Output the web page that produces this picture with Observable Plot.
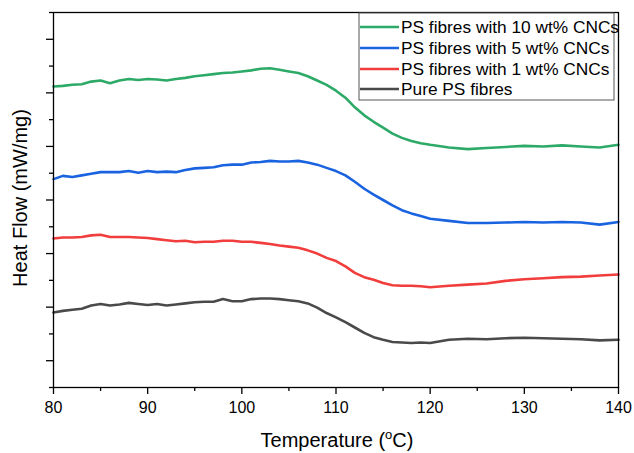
<!DOCTYPE html>
<html><head><meta charset="utf-8">
<script src="https://cdn.jsdelivr.net/npm/d3@7"></script>
<script src="https://cdn.jsdelivr.net/npm/@observablehq/plot@0.6"></script>
<style>body{margin:0;background:#fff;}</style>
</head><body><div id="chart"></div>
<script>
// Temperature (°C)
const temps = [80,81,82,83,84,85,86,87,88,89,90,91,92,93,94,95,96,97,98,99,100,101,102,103,104,105,106,107,108,109,110,111,112,113,114,115,116,117,118,119,120,122,124,126,128,130,132,134,136,138,140];
// Heat flow (arbitrary offset units)
const cnc10 = [5.12,5.13,5.15,5.16,5.21,5.23,5.18,5.23,5.26,5.24,5.26,5.25,5.23,5.26,5.28,5.31,5.33,5.35,5.37,5.38,5.40,5.42,5.45,5.46,5.43,5.40,5.37,5.31,5.23,5.15,5.04,4.91,4.73,4.58,4.46,4.35,4.24,4.16,4.10,4.06,4.03,3.98,3.95,3.97,3.99,4.01,4.00,4.02,4.00,3.98,4.03];
const cnc5 = [3.39,3.45,3.43,3.46,3.49,3.52,3.52,3.52,3.54,3.51,3.54,3.52,3.53,3.52,3.56,3.59,3.60,3.61,3.65,3.66,3.66,3.70,3.71,3.73,3.72,3.72,3.73,3.70,3.66,3.60,3.54,3.46,3.34,3.21,3.10,3.00,2.90,2.81,2.75,2.70,2.65,2.61,2.57,2.57,2.58,2.59,2.58,2.59,2.58,2.54,2.59];
const cnc1 = [2.28,2.30,2.30,2.31,2.34,2.35,2.31,2.31,2.31,2.30,2.29,2.27,2.25,2.23,2.24,2.21,2.22,2.22,2.24,2.24,2.22,2.22,2.20,2.18,2.15,2.13,2.11,2.06,2.00,1.92,1.86,1.76,1.64,1.56,1.51,1.45,1.41,1.40,1.40,1.39,1.37,1.40,1.42,1.44,1.49,1.52,1.54,1.56,1.57,1.59,1.61];
const pure = [0.90,0.93,0.95,0.97,1.03,1.06,1.03,1.05,1.08,1.06,1.04,1.06,1.03,1.05,1.07,1.09,1.10,1.10,1.15,1.11,1.11,1.15,1.16,1.16,1.15,1.13,1.11,1.07,0.99,0.89,0.81,0.72,0.62,0.52,0.44,0.39,0.35,0.34,0.33,0.34,0.33,0.39,0.41,0.40,0.42,0.43,0.42,0.41,0.40,0.38,0.39];

const seriesNames = ["PS fibres with 10 wt% CNCs","PS fibres with 5 wt% CNCs","PS fibres with 1 wt% CNCs","Pure PS fibres"];
const seriesColors = ["#2daa67","#1a63e0","#f23d3d","#4a4a4a"];
const xMajor = [80,90,100,110,120,130,140];
const xMinor = [85,95,105,115,125,135];
const yMajor = [0,1,2,3,4,5,6];
const yMinor = [-0.5,0.5,1.5,2.5,3.5,4.5,5.5,6.5];

const seriesValues = [cnc10, cnc5, cnc1, pure];
const rows = [];
seriesValues.forEach((vals, i) => vals.forEach((v, j) => rows.push({T: temps[j], v, series: seriesNames[i]})));

const font = "'Liberation Sans', Arial, sans-serif";
const chart = Plot.plot({
  width: 634, height: 453,
  marginLeft: 53, marginRight: 16, marginTop: 12, marginBottom: 66,
  style: {fontFamily: font, fontSize: "16px", color: "#000", background: "#fff"},
  x: {domain: [80, 140]},
  y: {domain: [-0.5, 6.5]},
  color: {domain: seriesNames, range: seriesColors},
  marks: [
    Plot.axisX({ticks: xMajor, tickSize: 7, tickPadding: 7, label: null, strokeWidth: 1.3, tickFormat: d => String(d)}),
    Plot.axisX({ticks: xMinor, tickSize: 4, label: null, strokeWidth: 1.3, tickFormat: () => ""}),
    Plot.axisY({ticks: yMajor, tickSize: 7, label: null, strokeWidth: 1.3, tickFormat: () => ""}),
    Plot.axisY({ticks: yMinor, tickSize: 4, label: null, strokeWidth: 1.3, tickFormat: () => ""}),
    Plot.line(rows, {x: "T", y: "v", z: "series", stroke: "series", strokeWidth: 2.6}),
    Plot.frame({stroke: "#000", strokeWidth: 1.3})
  ]
});
document.getElementById("chart").append(chart);

const svg = d3.select(chart);
// Axis titles
const xt = svg.append("text").attr("x", 337).attr("y", 447).attr("text-anchor", "middle")
  .attr("font-family", font).attr("font-size", 20).attr("fill", "#000");
xt.append("tspan").text("Temperature (");
xt.append("tspan").attr("font-size", 13).attr("dy", -8).text("o");
xt.append("tspan").attr("dy", 8).text("C)");
svg.append("text").attr("transform", "translate(27,198) rotate(-90)").attr("text-anchor", "middle")
  .attr("font-family", font).attr("font-size", 20).attr("fill", "#000").text("Heat Flow (mW/mg)");

// Legend
const lg = svg.append("g");
lg.append("rect").attr("x", 359).attr("y", 13).attr("width", 255).attr("height", 87)
  .attr("fill", "#fff").attr("stroke", "#555").attr("stroke-width", 1);
const rowY = [27, 48, 69, 89];
seriesNames.forEach((name, i) => {
  lg.append("line").attr("x1", 360).attr("x2", 399).attr("y1", rowY[i]).attr("y2", rowY[i])
    .attr("stroke", seriesColors[i]).attr("stroke-width", 2.6);
  lg.append("text").attr("x", 401).attr("y", rowY[i]).attr("dy", "0.35em").attr("text-anchor", "start")
    .attr("font-family", font).attr("font-size", 17.3).attr("fill", "#000").text(name);
});
</script>
</body></html>
